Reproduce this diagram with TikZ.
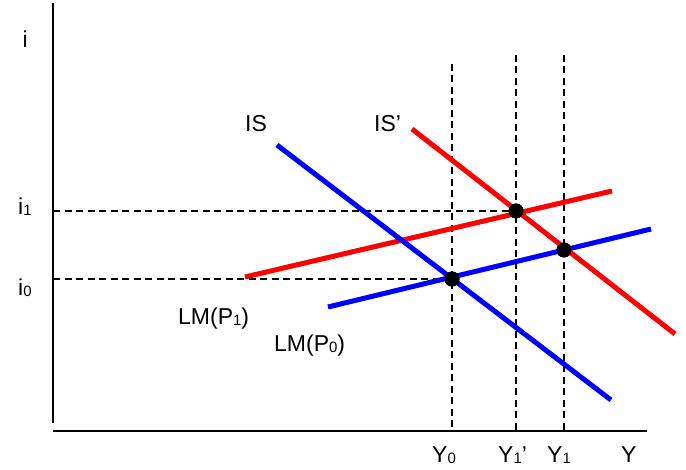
\documentclass[tikz,border=0pt]{standalone}
\usepackage{fontspec}
\setmainfont{Liberation Sans}
\newcommand{\lowidx}[1]{{\fontsize{15}{15}\selectfont\raisebox{-1pt}{#1}}}
\tikzset{
  axisline/.style={line width=2pt, black},
  guide/.style={line width=1.6pt, black, dash pattern=on 7pt off 4.5pt},
  curve/.style={line width=5pt},
  eqdot/.style={circle, fill=black, inner sep=0pt, minimum size=15pt},
  lbl/.style={anchor=base west, inner sep=0pt, font=\fontsize{23}{27}\selectfont}
}
\begin{document}
\begin{tikzpicture}[x=1pt,y=-1pt]
\useasboundingbox (0,0) rectangle (686,470);
% axes
\coordinate (ytop) at (53,3);
\coordinate (ybot) at (53,423);
\coordinate (xleft) at (53,431);
\coordinate (xright) at (647,431);
\draw[axisline] (ytop) -- (ybot);
\draw[axisline] (xleft) -- (xright);
% equilibrium points
\node[eqdot] (e0) at (452,279) {};
\node[eqdot] (e1) at (516,211) {};
\node[eqdot] (e2) at (564,250) {};
% guide coordinates
\coordinate (h1) at (53,211);
\coordinate (h0) at (53,279);
\coordinate (v0t) at (452,64);
\coordinate (v0b) at (452,431);
\coordinate (v1t) at (516,55);
\coordinate (v1b) at (516,431);
\coordinate (v2t) at (564,55);
\coordinate (v2b) at (564,431);
\draw[guide] (h1) -- (e1.center);
\draw[guide] (h0) -- (e0.center);
\draw[guide] (v0t) -- (v0b);
\draw[guide] (v1t) -- (v1b);
\draw[guide] (v2t) -- (v2b);
% curves
\coordinate (isA) at (277,145);
\coordinate (isB) at (611,400);
\coordinate (ispA) at (412,129);
\coordinate (ispB) at (675,334);
\coordinate (lm1A) at (245,277);
\coordinate (lm1B) at (612,191);
\coordinate (lm0A) at (328,307);
\coordinate (lm0B) at (651,229);
\draw[curve, red] (lm1A) -- (lm1B);
\draw[curve, blue] (lm0A) -- (lm0B);
\draw[curve, red] (ispA) -- (ispB);
\draw[curve, blue] (isA) -- (isB);
% redraw dots on top
\node[eqdot] at (e0) {};
\node[eqdot] at (e1) {};
\node[eqdot] at (e2) {};
% labels
\node[lbl] (li) at (22.5,48) {i};
\node[lbl] (li1) at (18,215) {i\lowidx{1}};
\node[lbl] (li0) at (18,296) {i\lowidx{0}};
\node[lbl] (lIS) at (245,132) {IS};
\node[lbl] (lISp) at (374,132) {IS’};
\node[lbl] (lLM1) at (178,325) {LM(P\lowidx{1})};
\node[lbl] (lLM0) at (274,352) {LM(P\lowidx{0})};
\node[lbl] (lY0) at (432,463) {Y\lowidx{0}};
\node[lbl] (lY1p) at (498,463) {Y\lowidx{1}’};
\node[lbl] (lY1) at (547,463) {Y\lowidx{1}};
\node[lbl] (lY) at (621,463) {Y};
\end{tikzpicture}
\end{document}
